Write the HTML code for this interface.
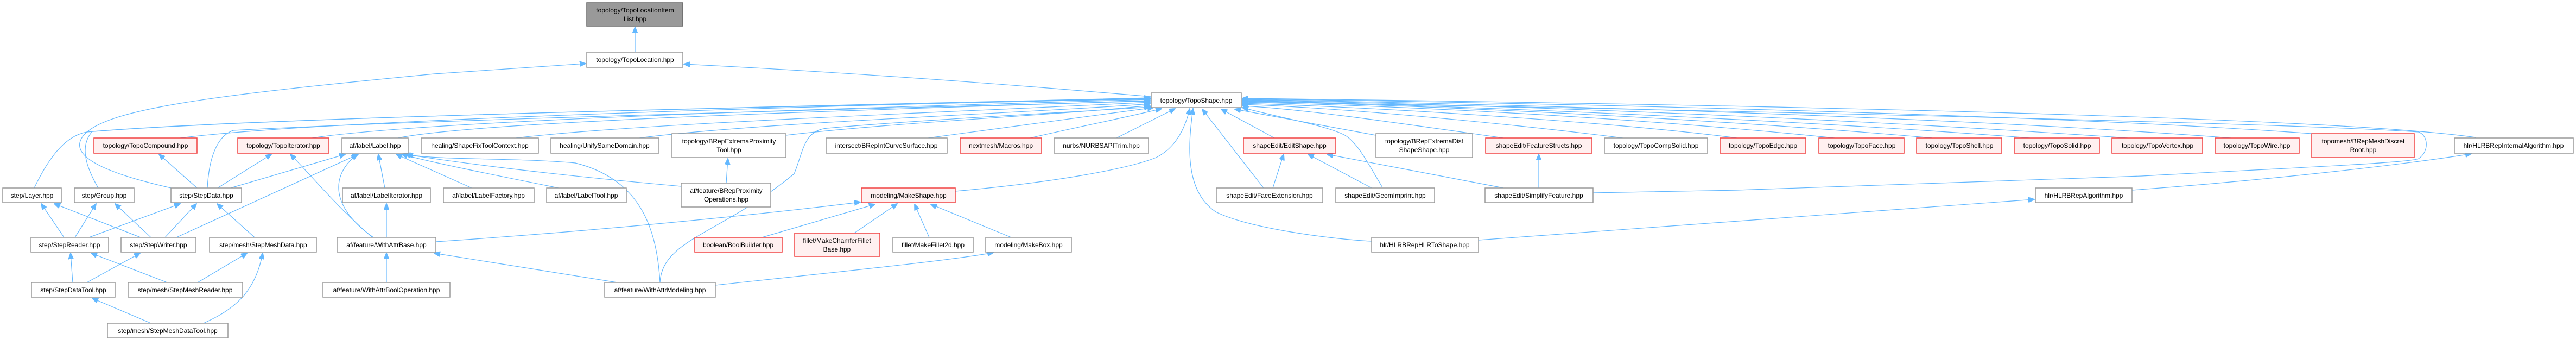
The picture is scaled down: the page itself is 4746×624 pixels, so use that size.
<!DOCTYPE html>
<html><head><meta charset="utf-8"><style>
html,body{margin:0;padding:0;background:#fff;}
svg{display:block;}
text{font-family:"Liberation Sans",Arial,sans-serif;font-size:12px;fill:#000;text-anchor:middle;}
.n{fill:#fff;stroke:#999;stroke-width:1.5;}
.r{fill:#fff0f0;stroke:#f04040;stroke-width:1.5;}
.g{fill:#999;stroke:#666;stroke-width:1.5;}
path.e{fill:none;stroke:#63b8ff;stroke-width:1.2;marker-end:url(#a);}
</style></head><body>
<svg width="4746" height="624" viewBox="0 0 4746 624" xmlns="http://www.w3.org/2000/svg">
<defs><marker id="a" viewBox="0 0 12 10" refX="11" refY="5" markerWidth="12" markerHeight="10" markerUnits="userSpaceOnUse" orient="auto"><path d="M0,0 L12,5 L0,10 z" fill="#63b8ff" stroke="#63b8ff"/></marker></defs>

<!-- edges -->
<path class="e" d="M1170,96 L1170,50"/>
<path class="e" d="M2121,178 C1800,150 1500,130 1260,118"/>
<path class="e" d="M315,346 C200,320 130,290 150,255 C180,200 400,175 800,136 L1079,117"/>
<!-- row1 left to TS -->
<path class="e" d="M332,254 C600,220 1500,195 2119,181"/>
<path class="e" d="M575,254 C800,220 1600,198 2119,183"/>
<path class="e" d="M733,254 C900,220 1700,200 2119,185"/>
<path class="e" d="M950,254 C1200,225 1800,205 2119,188"/>
<path class="e" d="M1178,254 C1400,225 1900,208 2119,191"/>
<path class="e" d="M1448,249 C1650,225 1950,212 2119,194"/>
<path class="e" d="M1710,254 C1850,235 2000,215 2125,198"/>
<path class="e" d="M1898,254 C1980,235 2080,215 2140,200"/>
<path class="e" d="M2057,254 L2165,200"/>
<path class="e" d="M63,346 C90,290 120,250 160,243 C500,215 1500,195 2119,180"/>
<path class="e" d="M181,346 C160,310 145,270 170,242 C500,215 1500,195 2119,182"/>
<path class="e" d="M382,346 C385,290 400,250 430,240 C800,220 1600,200 2119,186"/>
<path class="e" d="M1216,520 C1220,440 1330,430 1463,320 C1480,280 1480,240 1524,236 C1700,220 2000,205 2119,197"/>
<path class="e" d="M1760,352 C1950,335 2080,310 2130,290 C2170,270 2185,230 2192,200"/>
<path class="e" d="M2527,444 C2450,440 2300,420 2240,390 C2180,350 2190,260 2198,200"/>
<path class="e" d="M2328,346 L2215,201"/>
<path class="e" d="M2348,254 L2250,201"/>
<path class="e" d="M2535,249 L2275,201"/>
<path class="e" d="M2547,345 C2520,300 2500,260 2476,248 C2440,230 2350,215 2289,198"/>
<!-- row1 right to TS -->
<path class="e" d="M2770,254 C2600,230 2400,200 2289,195"/>
<path class="e" d="M2990,254 C2800,230 2500,200 2289,192"/>
<path class="e" d="M3200,254 C3000,228 2600,200 2289,190"/>
<path class="e" d="M3380,254 C3100,225 2700,198 2289,188"/>
<path class="e" d="M3560,254 C3200,222 2700,196 2289,186"/>
<path class="e" d="M3740,254 C3300,220 2700,195 2289,185"/>
<path class="e" d="M3920,254 C3400,218 2800,194 2289,184"/>
<path class="e" d="M4110,254 C3600,215 2800,192 2289,183"/>
<path class="e" d="M4259,246 C3800,212 2900,190 2289,182"/>
<path class="e" d="M4561,253 C4300,215 3200,192 2289,181"/>
<path class="e" d="M2935,355 L3200,350 L3946,324 C4200,310 4440,300 4456,292 C4475,280 4475,250 4456,243 C4200,225 3000,200 2289,187"/>
<path class="e" d="M3928,350 C4200,330 4450,300 4553,283"/>
<path class="e" d="M2724,442 L3748,367"/>
<!-- Label etc -->
<path class="e" d="M425,346 L636,284"/>
<path class="e" d="M325,437 L660,284"/>
<path class="e" d="M688,437 C620,390 600,330 658,284"/>
<path class="e" d="M709,346 L697,284"/>
<path class="e" d="M869,346 L730,284"/>
<path class="e" d="M1029,346 C900,320 800,300 740,284"/>
<path class="e" d="M1255,343 C1000,320 850,300 745,284"/>
<path class="e" d="M1216,520 C1210,420 1180,330 1060,300 C950,290 800,295 750,284"/>
<path class="e" d="M363,346 L293,284"/>
<path class="e" d="M401,346 L500,284"/>
<path class="e" d="M686,437 C620,380 580,330 535,284"/>
<path class="e" d="M1338,337 L1341,292"/>
<!-- step -->
<path class="e" d="M118,437 L76,375"/>
<path class="e" d="M138,437 L177,375"/>
<path class="e" d="M164,437 L332,375"/>
<path class="e" d="M259,437 L100,375"/>
<path class="e" d="M278,437 L212,375"/>
<path class="e" d="M304,437 L362,375"/>
<path class="e" d="M469,437 L400,375"/>
<path class="e" d="M160,520 L258,466"/>
<path class="e" d="M134,520 L130,466"/>
<path class="e" d="M308,520 L168,466"/>
<path class="e" d="M364,520 L455,466"/>
<path class="e" d="M278,595 L170,549"/>
<path class="e" d="M375,595 C430,570 470,540 484,466"/>
<!-- feature / modeling -->
<path class="e" d="M712,437 L712,375"/>
<path class="e" d="M712,520 L712,466"/>
<path class="e" d="M1137,520 L800,466"/>
<path class="e" d="M803,445 C1100,425 1400,395 1585,372"/>
<path class="e" d="M1318,525 C1500,505 1750,480 1830,465"/>
<path class="e" d="M1404,437 L1612,376"/>
<path class="e" d="M1574,429 L1653,375"/>
<path class="e" d="M1712,437 L1685,376"/>
<path class="e" d="M1863,437 L1715,376"/>
<path class="e" d="M2345,346 L2365,284"/>
<path class="e" d="M2527,346 L2410,284"/>
<path class="e" d="M2770,346 L2445,284"/>
<path class="e" d="M2835,346 L2835,284"/>

<!-- nodes -->
<rect class="g" x="1081" y="5" width="177" height="43"/><text x="1170" y="23">topology/TopoLocationItem</text><text x="1170" y="39">List.hpp</text>
<rect class="n" x="1081" y="96" width="177" height="28"/><text x="1170" y="114">topology/TopoLocation.hpp</text>
<rect class="n" x="2121" y="171" width="166" height="27"/><text x="2204" y="189">topology/TopoShape.hpp</text>

<rect class="r" x="173" y="254" width="190" height="28"/><text x="268" y="272">topology/TopoCompound.hpp</text>
<rect class="r" x="438" y="254" width="168" height="28"/><text x="522" y="272">topology/TopoIterator.hpp</text>
<rect class="n" x="630" y="254" width="122" height="28"/><text x="691" y="272">af/label/Label.hpp</text>
<rect class="n" x="776" y="254" width="216" height="28"/><text x="884" y="272">healing/ShapeFixToolContext.hpp</text>
<rect class="n" x="1015" y="254" width="199" height="28"/><text x="1114" y="272">healing/UnifySameDomain.hpp</text>
<rect class="n" x="1238" y="246" width="210" height="44"/><text x="1343" y="264">topology/BRepExtremaProximity</text><text x="1343" y="280">Tool.hpp</text>
<rect class="n" x="1522" y="254" width="223" height="28"/><text x="1633" y="272">intersect/BRepIntCurveSurface.hpp</text>
<rect class="r" x="1769" y="254" width="150" height="28"/><text x="1844" y="272">nextmesh/Macros.hpp</text>
<rect class="n" x="1942" y="254" width="174" height="28"/><text x="2029" y="272">nurbs/NURBSAPITrim.hpp</text>
<rect class="r" x="2291" y="254" width="170" height="28"/><text x="2376" y="272">shapeEdit/EditShape.hpp</text>
<rect class="n" x="2535" y="246" width="178" height="44"/><text x="2624" y="264">topology/BRepExtremaDist</text><text x="2624" y="280">ShapeShape.hpp</text>
<rect class="r" x="2737" y="254" width="196" height="28"/><text x="2835" y="272">shapeEdit/FeatureStructs.hpp</text>
<rect class="n" x="2956" y="254" width="190" height="28"/><text x="3051" y="272">topology/TopoCompSolid.hpp</text>
<rect class="r" x="3169" y="254" width="158" height="28"/><text x="3248" y="272">topology/TopoEdge.hpp</text>
<rect class="r" x="3351" y="254" width="157" height="28"/><text x="3430" y="272">topology/TopoFace.hpp</text>
<rect class="r" x="3531" y="254" width="157" height="28"/><text x="3610" y="272">topology/TopoShell.hpp</text>
<rect class="r" x="3711" y="254" width="157" height="28"/><text x="3790" y="272">topology/TopoSolid.hpp</text>
<rect class="r" x="3891" y="254" width="167" height="28"/><text x="3975" y="272">topology/TopoVertex.hpp</text>
<rect class="r" x="4081" y="254" width="155" height="28"/><text x="4158" y="272">topology/TopoWire.hpp</text>
<rect class="r" x="4259" y="246" width="189" height="44"/><text x="4354" y="264">topomesh/BRepMeshDiscret</text><text x="4354" y="280">Root.hpp</text>
<rect class="n" x="4522" y="254" width="219" height="28"/><text x="4631" y="272">hlr/HLRBRepInternalAlgorithm.hpp</text>

<rect class="n" x="5" y="346" width="108" height="27"/><text x="59" y="364">step/Layer.hpp</text>
<rect class="n" x="137" y="346" width="110" height="27"/><text x="192" y="364">step/Group.hpp</text>
<rect class="n" x="315" y="346" width="130" height="27"/><text x="380" y="364">step/StepData.hpp</text>
<rect class="n" x="631" y="346" width="162" height="27"/><text x="712" y="364">af/label/LabelIterator.hpp</text>
<rect class="n" x="817" y="346" width="167" height="27"/><text x="900" y="364">af/label/LabelFactory.hpp</text>
<rect class="n" x="1007" y="346" width="147" height="27"/><text x="1080" y="364">af/label/LabelTool.hpp</text>
<rect class="n" x="1255" y="337" width="165" height="44"/><text x="1338" y="355">af/feature/BRepProximity</text><text x="1338" y="371">Operations.hpp</text>
<rect class="r" x="1587" y="346" width="173" height="27"/><text x="1674" y="364">modeling/MakeShape.hpp</text>
<rect class="n" x="2241" y="346" width="196" height="27"/><text x="2339" y="364">shapeEdit/FaceExtension.hpp</text>
<rect class="n" x="2461" y="346" width="182" height="27"/><text x="2552" y="364">shapeEdit/GeomImprint.hpp</text>
<rect class="n" x="2736" y="346" width="199" height="27"/><text x="2835" y="364">shapeEdit/SimplifyFeature.hpp</text>
<rect class="n" x="3750" y="346" width="178" height="27"/><text x="3839" y="364">hlr/HLRBRepAlgorithm.hpp</text>

<rect class="n" x="57" y="437" width="143" height="27"/><text x="128" y="455">step/StepReader.hpp</text>
<rect class="n" x="223" y="437" width="138" height="27"/><text x="292" y="455">step/StepWriter.hpp</text>
<rect class="n" x="386" y="437" width="197" height="27"/><text x="485" y="455">step/mesh/StepMeshData.hpp</text>
<rect class="n" x="621" y="437" width="182" height="27"/><text x="712" y="455">af/feature/WithAttrBase.hpp</text>
<rect class="r" x="1280" y="437" width="161" height="27"/><text x="1360" y="455">boolean/BoolBuilder.hpp</text>
<rect class="r" x="1464" y="429" width="157" height="43"/><text x="1542" y="447">fillet/MakeChamferFillet</text><text x="1542" y="463">Base.hpp</text>
<rect class="n" x="1645" y="437" width="148" height="27"/><text x="1719" y="455">fillet/MakeFillet2d.hpp</text>
<rect class="n" x="1816" y="437" width="158" height="27"/><text x="1895" y="455">modeling/MakeBox.hpp</text>
<rect class="n" x="2527" y="437" width="197" height="27"/><text x="2625" y="455">hlr/HLRBRepHLRToShape.hpp</text>

<rect class="n" x="58" y="520" width="154" height="27"/><text x="135" y="538">step/StepDataTool.hpp</text>
<rect class="n" x="236" y="520" width="211" height="27"/><text x="341" y="538">step/mesh/StepMeshReader.hpp</text>
<rect class="n" x="595" y="520" width="234" height="27"/><text x="712" y="538">af/feature/WithAttrBoolOperation.hpp</text>
<rect class="n" x="1114" y="520" width="204" height="27"/><text x="1216" y="538">af/feature/WithAttrModeling.hpp</text>

<rect class="n" x="198" y="595" width="222" height="27"/><text x="309" y="613">step/mesh/StepMeshDataTool.hpp</text>
</svg>
</body></html>
